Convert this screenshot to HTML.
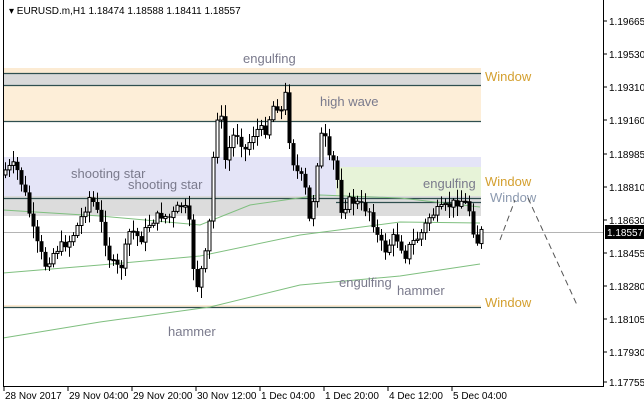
<!DOCTYPE html>
<html><head><meta charset="utf-8"><style>
html,body{margin:0;padding:0;background:#fff;width:644px;height:407px;overflow:hidden}
svg{display:block;font-family:"Liberation Sans",sans-serif}
</style></head><body>
<svg id="s" width="644" height="407" xmlns="http://www.w3.org/2000/svg">
<rect x="0" y="0" width="644" height="407" fill="#fff"/>
<rect x="3" y="68" width="478" height="6" fill="#fcebd3"/>
<rect x="3" y="73" width="478" height="12" fill="#d9d9d9"/>
<rect x="3" y="85" width="478" height="36" fill="#fdeed8"/>
<rect x="3" y="157" width="478" height="39" fill="#e4e4f7"/>
<rect x="336" y="167" width="145" height="29" fill="#e7f3d8"/>
<rect x="3" y="196" width="478" height="20" fill="#dcdcdc"/>
<rect x="3" y="305" width="478" height="2" fill="#fcebd3"/>
<g stroke="#2f4f4f" stroke-width="1.2">
<line x1="3" y1="73.5" x2="481" y2="73.5"/><line x1="3" y1="85.5" x2="481" y2="85.5"/>
<line x1="3" y1="121.5" x2="481" y2="121.5"/><line x1="3" y1="198.5" x2="481" y2="198.5"/>
<line x1="336" y1="202.5" x2="481" y2="202.5"/>
<line x1="3" y1="307.5" x2="481" y2="307.5"/>
</g>
<line x1="3" y1="232.5" x2="603" y2="232.5" stroke="#b4b4b4"/>
<g id="ma" fill="none" stroke="#7fbf7f" stroke-width="1"></g>
<g id="c"></g>
<g font-size="13" fill="#7a7a8c">
<text x="243" y="63">engulfing</text>
<text x="320" y="106">high wave</text>
<text x="71" y="178">shooting star</text>
<text x="128" y="189">shooting star</text>
<text x="168" y="336">hammer</text>
<text x="339" y="287">engulfing</text>
<text x="397" y="295">hammer</text>
<text x="423" y="188">engulfing</text>
</g>
<g font-size="13" fill="#d4a030">
<text x="485" y="81">Window</text><text x="485" y="186">Window</text><text x="485" y="307">Window</text>
</g>
<text x="490" y="202" font-size="13" fill="#8c9ab0">Window</text>
<g stroke="#555" stroke-dasharray="6,4" stroke-width="1">
<line x1="500" y1="240" x2="515" y2="200"/><line x1="528" y1="198" x2="577" y2="305"/>
</g>
<line x1="3.5" y1="0" x2="3.5" y2="387" stroke="#000"/>
<line x1="3" y1="386.5" x2="604" y2="386.5" stroke="#000"/>
<line x1="603.5" y1="0" x2="603.5" y2="387" stroke="#000"/>
<text x="9" y="14" font-size="10" fill="#000">▾ EURUSD.m,H1  1.18474 1.18588 1.18411 1.18557</text>
<g id="ax" font-size="10" fill="#000"></g>
<rect x="605" y="225" width="39" height="14" fill="#000"/>
<text x="607" y="236" font-size="10" fill="#fff">1.18557</text>
</svg>
<script>
(function(){
var NS="http://www.w3.org/2000/svg",s=document.getElementById('s');
function el(t,a,p){var e=document.createElementNS(NS,t);for(var k in a)e.setAttribute(k,a[k]);(p||s).appendChild(e);return e;}
var ax=document.getElementById('ax');
var labs=["1.19665","1.19530","1.19310","1.19160","1.18985","1.18810","1.18630","1.18455","1.18280","1.18105","1.17930","1.17755"];
var ys=[21,54,87,120,154,187,220,253,286,319,352,382];
for(var i=0;i<labs.length;i++){el('line',{x1:603,y1:ys[i],x2:607,y2:ys[i],stroke:'#000'},ax);var t=el('text',{x:609,y:ys[i]+4},ax);t.textContent=labs[i];}
var xl=["28 Nov 2017","29 Nov 04:00","29 Nov 20:00","30 Nov 12:00","1 Dec 04:00","1 Dec 20:00","4 Dec 12:00","5 Dec 04:00"];
for(var i=0;i<xl.length;i++){var x=4+i*64;el('line',{x1:x,y1:386,x2:x,y2:391,stroke:'#000'},ax);var t=el('text',{x:x+1,y:399},ax);t.textContent=xl[i];}
var kp=[[5,170],[15,165],[25,195],[35,240],[45,265],[55,250],[70,240],[80,220],[90,195],[100,220],[110,262],[120,270],[130,228],[140,240],[150,222],[160,215],[170,218],[180,205],[188,212],[192,262],[197,285],[205,255],[210,215],[215,120],[220,110],[225,160],[235,130],[245,150],[255,130],[265,130],[275,100],[280,115],[285,95],[290,150],[295,170],[300,175],[305,190],[310,228],[315,180],[320,135],[325,140],[330,165],[335,160],[340,210],[350,200],[360,205],[370,212],[378,240],[385,250],[395,235],[405,255],[410,245],[420,235],[430,215],[440,210],[450,205],[460,200],[468,205],[472,225],[476,245],[480,232]];
function f(x){for(var i=0;i<kp.length-1;i++){if(x<=kp[i+1][0]){var a=kp[i],b=kp[i+1];return a[1]+(b[1]-a[1])*(x-a[0])/(b[0]-a[0]);}}return kp[kp.length-1][1];}
var seed=7;function r(){seed=(seed*9301+49297)%233280;return seed/233280;}
var g=document.getElementById('c'),prev=f(5)+5;
for(var x=5;x<=481;x+=4){var c=f(x)+(r()-0.5)*10,o=prev;var hi=Math.min(o,c)-2-r()*10,lo=Math.max(o,c)+2+r()*10;
el('line',{x1:x+.5,y1:hi,x2:x+.5,y2:lo,stroke:'#000'},g);
var ty=Math.min(o,c),h=Math.max(1,Math.abs(o-c));
if(c<o)el('rect',{x:x-1,y:ty,width:3,height:h,fill:'#fff',stroke:'#000','stroke-width':1},g);
else el('rect',{x:x-1.5,y:ty,width:4,height:h,fill:'#000'},g);prev=c;}
var ma=document.getElementById('ma');
var m=[[[3,210],[100,216],[200,225],[250,205],[320,195],[400,198],[480,207]],[[3,273],[100,265],[200,256],[300,235],[400,222],[480,223]],[[3,338],[100,322],[210,307],[300,285],[400,276],[480,264]]];
m.forEach(function(p){el('polyline',{points:p.map(function(q){return q.join(',')}).join(' ')},ma);});
})();
</script>
</body></html>
